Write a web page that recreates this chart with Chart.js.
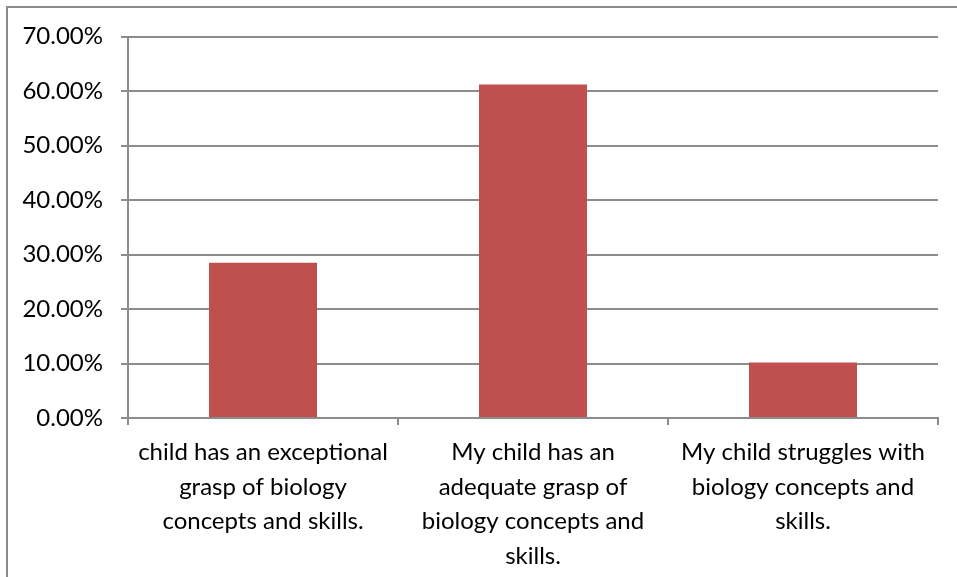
<!DOCTYPE html>
<html>
<head>
<meta charset="utf-8">
<script src="https://cdn.jsdelivr.net/npm/chart.js@4/dist/chart.umd.min.js"></script>
<style>
  html, body { margin: 0; padding: 0; background: #fff; }
  #frame {
    position: absolute; left: 6px; top: 6px;
    width: 951px; height: 571px;
    border-left: 2px solid #8c8c8c; border-top: 2px solid #8c8c8c;
  }
  #chart { display: block; }
</style>
</head>
<body>
<div id="frame"><canvas id="chart" width="949" height="569"></canvas></div>
<script>
// answers (first label is cut off in the source)
const categories = [
  ['child has an exceptional', 'grasp of biology', 'concepts and skills.'],
  ['My child has an', 'adequate grasp of', 'biology concepts and', 'skills.'],
  ['My child struggles with', 'biology concepts and', 'skills.']
];
const shares = [28.5, 61.2, 10.2];
const yTicks = [0, 10, 20, 30, 40, 50, 60, 70];

const gridColor = '#8c8c8c';
const fontFamily = 'Lato, "Open Sans", sans-serif';

const chart = new Chart(document.getElementById('chart'), {
  type: 'bar',
  data: {
    labels: categories,
    datasets: [{
      data: shares,
      backgroundColor: '#c0504d',
      borderWidth: 0,
      categoryPercentage: 1,
      barPercentage: 0.4
    }]
  },
  options: {
    responsive: false,
    animation: false,
    layout: { padding: { top: 10, right: 19, left: 0, bottom: 0 } },
    plugins: { legend: { display: false }, tooltip: { enabled: false } },
    scales: {
      x: {
        grid: { offset: true, drawOnChartArea: false, drawTicks: true, tickLength: 7, color: gridColor, lineWidth: 2 },
        border: { color: gridColor, width: 2 },
        ticks: { color: '#000', font: { family: fontFamily, size: 24, lineHeight: 1.44 }, maxRotation: 0, autoSkip: false, padding: 10 },
        afterFit: (s) => { s.height = 159; }
      },
      y: {
        min: 0,
        max: 70,
        afterBuildTicks: (s) => { s.ticks = yTicks.map(v => ({ value: v })); },
        grid: { color: gridColor, lineWidth: 2, tickLength: 7 },
        border: { color: gridColor, width: 2 },
        // small lineHeight keeps the top label from pushing the plot down
        ticks: { color: '#000', font: { family: fontFamily, size: 24, lineHeight: 0.875 }, padding: 18, callback: v => v.toFixed(2) + '%' },
        afterFit: (s) => { s.width = 120; }
      }
    }
  }
});
</script>
</body>
</html>
